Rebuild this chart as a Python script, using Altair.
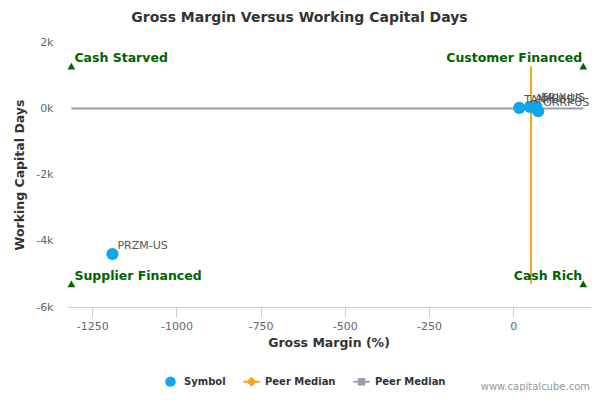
import altair as alt
import pandas as pd

# Peer data
symbols = ["PRZM-US", "TANH-US", "AMRI-US", "ERIX-US", "ORRI-US"]
gross_margin = [-1190, 18, 50, 68, 74]
wc_days = [-4400, 10, 40, 60, -90]

# Medians
median_x = 53
median_y = -10
x_min, x_max = -1312, 208
y_min, y_max = -5300, 1270

# Quadrant labels
quad_labels = ["Cash Starved", "Customer Financed", "Supplier Financed", "Cash Rich"]
quad_x = [x_min, x_max, x_min, x_max]
quad_y = [y_max, y_max, y_min, y_min]
quad_align = ["left", "right", "left", "right"]

series = ["Symbol", "Peer Median A", "Peer Median B"]
series_colors = ["#11a5ee", "#f7a31c", "#9a9ea9"]
line_diamond = "M-1.55,-0.2H1.55V0.2H-1.55Z M0,-0.95L0.95,0L0,0.95L-0.95,0Z"
line_square = "M-1.55,-0.2H1.55V0.2H-1.55Z M-0.7,-0.7H0.7V0.7H-0.7Z"
series_shapes = ["circle", line_diamond, line_square]

pts = pd.DataFrame({"sym": symbols, "gm": gross_margin, "wc": wc_days, "series": "Symbol"})
quad = pd.DataFrame({"label": quad_labels, "qx": quad_x, "qy": quad_y, "align": quad_align})
vline = pd.DataFrame({"x": [median_x], "y": [y_min], "y2": [y_max]})
hline = pd.DataFrame({"x": [x_min], "x2": [x_max], "y": [median_y]})

xscale = alt.Scale(domain=[-1325, 228], nice=False, zero=False)
yscale = alt.Scale(domain=[-6000, 2000], nice=False, zero=False)

xaxis = alt.Axis(values=[-1250, -1000, -750, -500, -250, 0], title="Gross Margin (%)",
                 labelExpr="'' + datum.value",
                 grid=False, domainColor="#c0d0e0", tickColor="#c0d0e0", tickSize=10,
                 labelColor="#666666", labelFontSize=11, labelPadding=3,
                 titleFontSize=12.5, titleFontWeight="bold", titleColor="#333333", titlePadding=5)
yaxis = alt.Axis(values=[-6000, -4000, -2000, 0, 2000], title="Working Capital Days",
                 labelExpr="(datum.value/1000) + 'k'", grid=False, domain=False, ticks=False,
                 labelColor="#666666", labelFontSize=11, labelPadding=14,
                 titleFontSize=12.5, titleFontWeight="bold", titleColor="#333333", titlePadding=9)

base_x = alt.X("gm:Q", scale=xscale, axis=xaxis)
base_y = alt.Y("wc:Q", scale=yscale, axis=yaxis)

hl = alt.Chart(hline).mark_rule(color="#9a9ea9", strokeWidth=2).encode(
    x=alt.X("x:Q", scale=xscale, axis=xaxis), x2="x2:Q",
    y=alt.Y("y:Q", scale=yscale, axis=yaxis))
vl = alt.Chart(vline).mark_rule(color="#f7a31c", strokeWidth=2).encode(
    x=alt.X("x:Q", scale=xscale), y=alt.Y("y:Q", scale=yscale), y2="y2:Q")

points = alt.Chart(pts).mark_point(filled=True, opacity=1, size=150).encode(
    x=base_x, y=base_y,
    color=alt.Color("series:N", scale=alt.Scale(domain=series, range=series_colors),
                    legend=alt.Legend(title=None, orient="none", direction="horizontal",
                                      legendX=98, legendY=334, symbolSize=110,
                                      labelFontSize=10, labelFontWeight="bold", labelColor="#333333",
                                      columnPadding=17, labelOffset=8, symbolStrokeWidth=0,
                                      labelExpr="datum.label == 'Symbol' ? 'Symbol' : 'Peer Median'")),
    shape=alt.Shape("series:N", scale=alt.Scale(domain=series, range=series_shapes)))

labels = alt.Chart(pts).mark_text(align="left", dx=5, dy=-8, fontSize=11, color="#555555").encode(
    x=alt.X("gm:Q", scale=xscale), y=alt.Y("wc:Q", scale=yscale), text="sym:N")

tri = alt.Chart(quad).mark_point(shape="triangle-up", filled=True, opacity=1, size=60, color="#006400").encode(
    x=alt.X("qx:Q", scale=xscale), y=alt.Y("qy:Q", scale=yscale))

qtext_left = alt.Chart(quad).transform_filter("datum.align == 'left'").mark_text(
    align="left", dx=3, dy=-8, fontSize=12.5, fontWeight="bold", color="#006400").encode(
    x=alt.X("qx:Q", scale=xscale), y=alt.Y("qy:Q", scale=yscale), text="label:N")
qtext_right = alt.Chart(quad).transform_filter("datum.align == 'right'").mark_text(
    align="right", dx=-1, dy=-8, fontSize=12.5, fontWeight="bold", color="#006400").encode(
    x=alt.X("qx:Q", scale=xscale), y=alt.Y("qy:Q", scale=yscale), text="label:N")

watermark = alt.Chart(pd.DataFrame({"t": ["www.capitalcube.com"]})).mark_text(
    align="right", baseline="alphabetic", fontSize=10, color="#999999").encode(
    x=alt.value(523), y=alt.value(348), text="t:N")

chart = alt.layer(hl, vl, points, labels, tri, qtext_left, qtext_right, watermark).properties(
    width=523, height=265,
    padding={"left": 59, "top": 34, "right": 2, "bottom": 84},
    autosize=alt.AutoSizeParams(type="none"),
    title=alt.TitleParams("Gross Margin Versus Working Capital Days", fontSize=14, fontWeight="bold",
                          color="#333333", anchor="middle", dx=-29, offset=11),
).configure(font="DejaVu Sans").configure_view(stroke=None)

chart.save("out.html", embed_options={"renderer": "svg", "actions": False})
